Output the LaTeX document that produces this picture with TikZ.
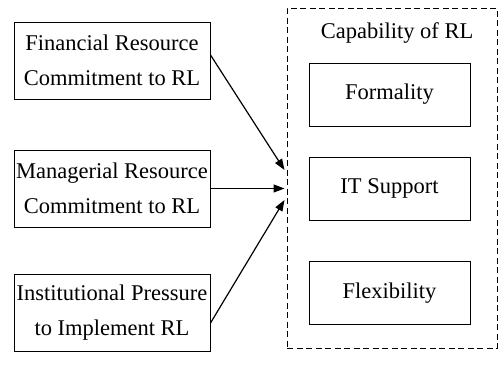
\documentclass[tikz,border=0pt]{standalone}
\usepackage{fontspec}
\setmainfont{Liberation Serif}
\usetikzlibrary{arrows.meta,calc}
\tikzset{
  txt/.style={font=\fontsize{22.5}{35}\selectfont, align=center, inner sep=0pt},
  leftbox/.style={txt, draw, line width=1pt, minimum width=196, minimum height=77},
  innerbox/.style={txt, draw, line width=1pt, minimum width=161, minimum height=63},
  capbox/.style={draw, line width=1pt, dash pattern=on 6pt off 3.5pt, minimum width=210, minimum height=340, inner sep=0pt},
  link/.style={line width=1.2pt, -{Triangle[length=11pt,width=8pt]}}
}
\begin{document}
\begin{tikzpicture}[x=1pt,y=-1pt]
\useasboundingbox (0,0) rectangle (498,367);
\node[leftbox] (fin) at (112,60.5) {Financial Resource\\Commitment to RL};
\node[leftbox] (man) at (112,188.5) {Managerial Resource\\Commitment to RL};
\node[leftbox] (ins) at (112,313) {Institutional Pressure\\to Implement RL};
\node[capbox] (cap) at (392,178) {};
\node[txt] (title) at (397,33) {Capability of RL};
\node[innerbox] (form) at (389.5,94.5) {Formality};
\node[innerbox] (its) at (389.5,188.5) {IT Support};
\node[innerbox] (flex) at (389.5,293) {Flexibility};
\coordinate (s1) at ($(fin.east)+(0,-5.5)$);
\coordinate (s3) at ($(ins.east)+(0,10)$);
\coordinate (t1) at ($(cap.west)+(-2,-8)$);
\coordinate (t2) at ($(cap.west |- man.east)+(-2,0)$);
\coordinate (t3) at ($(cap.west)+(-2,22)$);
\draw[link] (s1) -- (t1);
\draw[link] (man.east) -- (t2);
\draw[link] (s3) -- (t3);
\end{tikzpicture}
\end{document}
